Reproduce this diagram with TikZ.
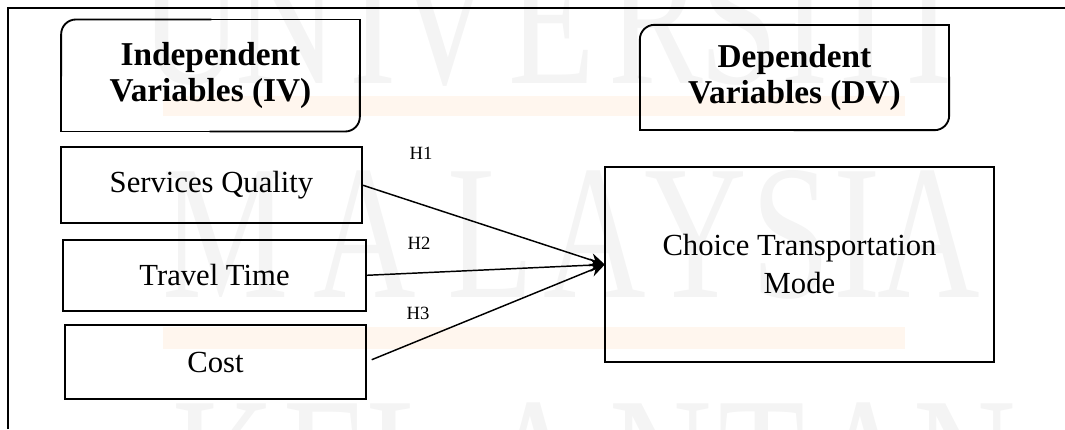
\documentclass[tikz,border=0pt]{standalone}
\usepackage{fontspec}
\setmainfont{Liberation Serif}
\newfontfamily\wmfont[FakeStretch=0.74]{Liberation Serif}
\usetikzlibrary{arrows.meta, positioning}
\definecolor{wmgray}{gray}{0.955}
\definecolor{wmorange}{RGB}{255,246,238}
\tikzstyle{header} = [rectangle, minimum width=224pt, minimum height=84pt, outer sep=0pt, align=center, font=\fontsize{25}{27}\selectfont\bfseries]
\tikzstyle{varbox} = [rectangle, draw, line width=1.4pt, minimum width=226pt, minimum height=56pt, outer sep=0pt, align=center, font=\fontsize{23}{28.5}\selectfont]
\tikzstyle{hyp} = [font=\fontsize{14}{16}\selectfont]
\tikzstyle{link} = [line width=1.1pt, -{Stealth[length=11pt,width=10pt]}]
\tikzstyle{wm} = [text=wmgray, anchor=base, inner sep=0pt, font=\wmfont\fontsize{144}{144}\selectfont]

\begin{document}
\begin{tikzpicture}[x=0.75pt, y=-0.75pt]
  \useasboundingbox (0,0) rectangle (1065,429);
  \clip (0,0) rectangle (1065,429);

  % watermark behind everything
  \fill[wmorange] (163,96) rectangle (905,116);
  \fill[wmorange] (163,327) rectangle (905,349);
  \foreach \c/\x [count=\i] in {U/192,N/287,I/373,V/445,E/552,R/656,S/739,I/805,T/866,I/929}
    \node[wm] (wu\i) at (\x,83) {\c};
  \foreach \c/\x [count=\i] in {M/226,A/365,L/491,A/595,Y/696,S/791,I/857,A/929}
    \node[wm] (wm\i) at (\x,297) {\c};
  \foreach \c/\x [count=\i] in {K/224,E/327,L/410,A/535,N/661,T/762,A/865,N/965}
    \node[wm] (wk\i) at (\x,529) {\c};

  % frame
  \draw[line width=1.8pt] (8,429) -- (8,8) -- (1065,8);

  % headers, rounded only top left and bottom right
  \node[header] (iv) at (210.5,75.5) {Independent\\Variables (IV)};
  \node[header, minimum width=232pt, minimum height=79pt] (dv) at (794.5,77.5) {Dependent\\Variables (DV)};
  \foreach \n in {iv,dv}{
    \draw[line width=1.4pt, line cap=rect, rounded corners=11pt] (\n.west) -- (\n.north west) -- (\n.north);
    \draw[line width=1.4pt, line cap=rect] (\n.north) -- (\n.north east) -- (\n.east);
    \draw[line width=1.4pt, line cap=rect, rounded corners=11pt] (\n.east) -- (\n.south east) -- (\n.south);
    \draw[line width=1.4pt, line cap=rect] (\n.south) -- (\n.south west) -- (\n.west);
  }

  % variables
  \node[varbox, minimum height=57pt] (sq) at (211.5,185) {Services Quality};
  \node[varbox, minimum width=227pt, minimum height=53pt, below=12.75pt of sq, xshift=2.25pt] (tt) {Travel Time};
  \node[varbox, below=10.5pt of tt, xshift=0.75pt] (cost) {Cost};
  \node[varbox, minimum width=292pt, minimum height=146pt] (ctm) at (799.5,264.5) {Choice Transportation\\Mode};

  \draw[link] (sq.east) -- (ctm.west);
  \draw[link] (tt.east) -- (ctm.west);
  \draw[link, shorten <=4.5pt] (cost.east) -- (ctm.west);

  \node[hyp] (h1) at (421,153) {H1};
  \node[hyp] (h2) at (419,243) {H2};
  \node[hyp] (h3) at (418,313) {H3};
\end{tikzpicture}
\end{document}
